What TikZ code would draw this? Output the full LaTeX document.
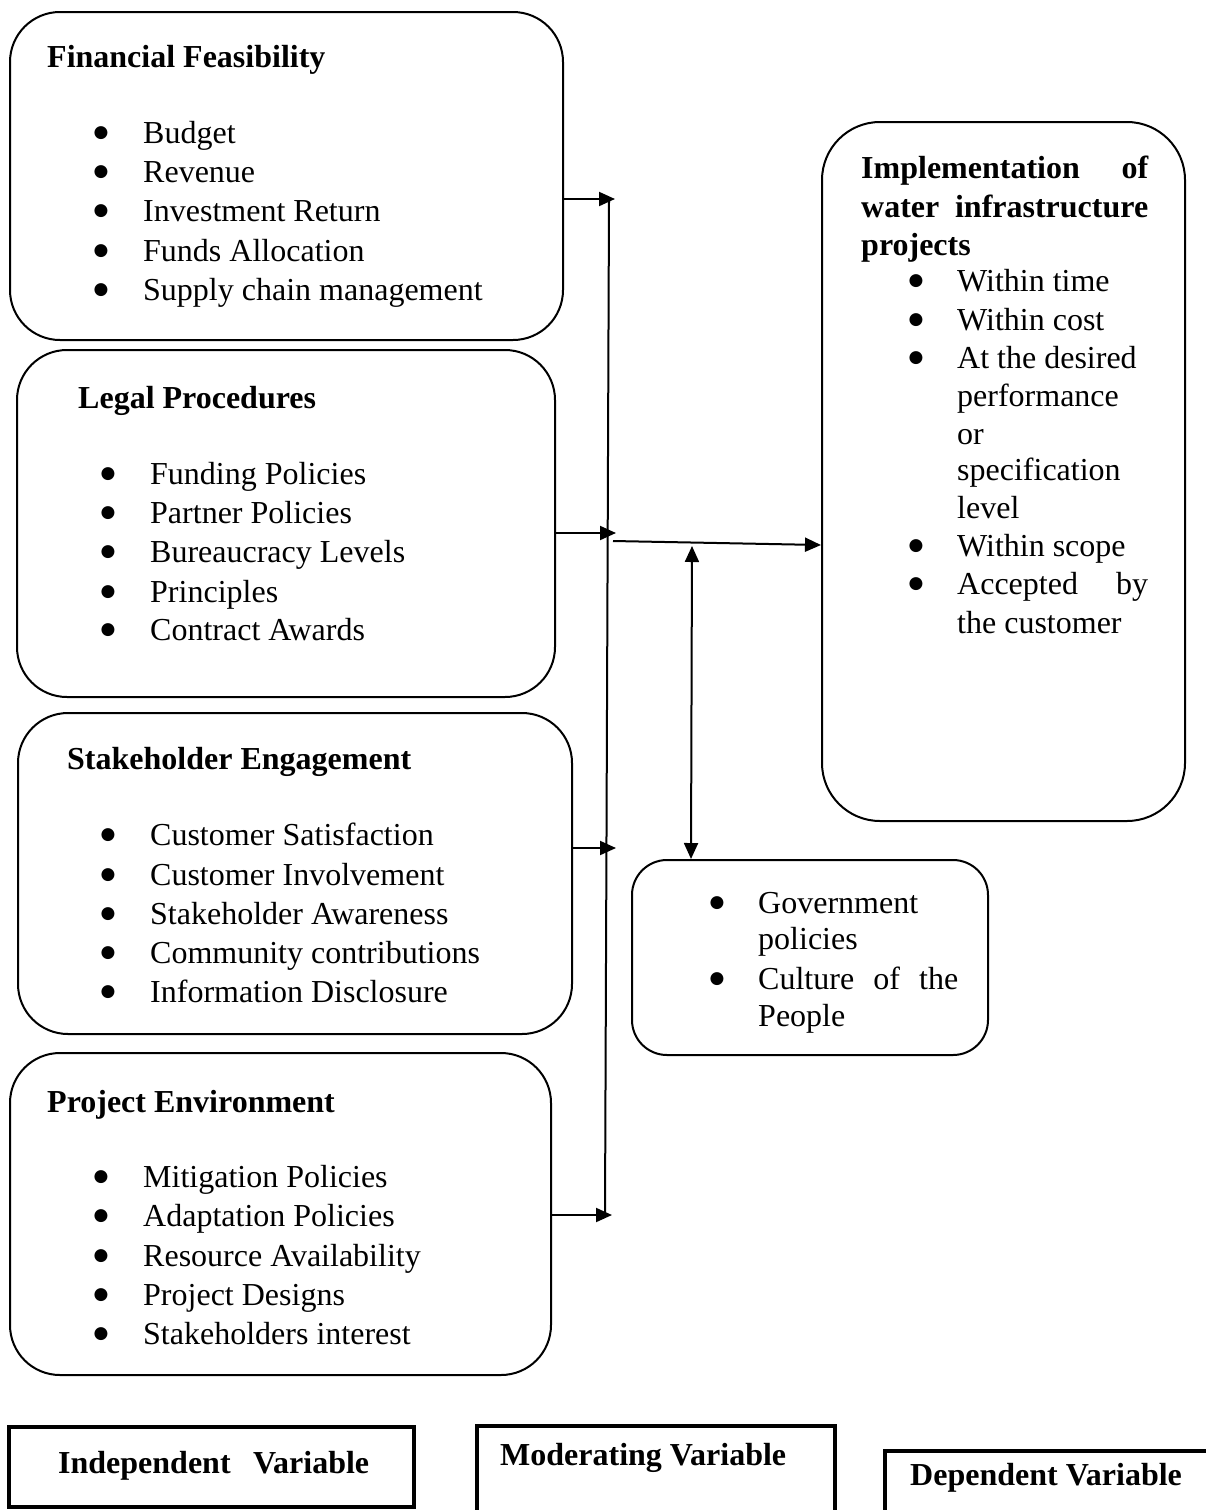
\documentclass[tikz,border=0pt]{standalone}
\usepackage{fontspec}
\setmainfont{Liberation Serif}
\newfontfamily\bulfont{DejaVu Sans}
\usetikzlibrary{arrows.meta}
\tikzset{
  rbox/.style={draw, line width=2pt, rounded corners=50pt, inner sep=0pt},
  vbox/.style={draw, line width=4pt, inner sep=0pt},
  txt/.style={anchor=base west, inner sep=0pt, font=\fontsize{32}{39}\selectfont},
  hd/.style={txt, font=\fontsize{32}{39}\selectfont\bfseries},
  bul/.style={anchor=center, inner sep=0pt, yshift=2pt, font=\bulfont\fontsize{17}{18}\selectfont},
  arr/.style={line width=2pt, -{Triangle[length=16pt,width=14pt]}},
  dbl/.style={line width=2pt, {Triangle[length=16pt,width=14pt]}-{Triangle[length=16pt,width=14pt]}},
  ln/.style={line width=2pt}
}
\begin{document}
\begin{tikzpicture}[x=1pt,y=-1pt]
\useasboundingbox (0,0) rectangle (1206,1510);
% boxes
\node[rbox, minimum width=553pt, minimum height=328pt] (fin) at (286.5,176) {};
\node[rbox, minimum width=538pt, minimum height=347pt] (leg) at (286,523.5) {};
\node[rbox, minimum width=554pt, minimum height=321pt] (stk) at (295,873.5) {};
\node[rbox, minimum width=541pt, minimum height=322pt] (prj) at (280.5,1214) {};
\node[rbox, rounded corners=58pt, minimum width=363pt, minimum height=699pt] (impl) at (1003.5,471.5) {};
\node[rbox, rounded corners=35pt, minimum width=356pt, minimum height=195pt] (mod) at (810,957.5) {};

% Financial
\node[hd] (finh) at (47,67) {Financial Feasibility};
\node[bul] (fb1) at (101,135) {●}; \node[txt] (ft1) at (143,143) {Budget};
\node[bul] (fb2) at (101,174) {●}; \node[txt] (ft2) at (143,182) {Revenue};
\node[bul] (fb3) at (101,213) {●}; \node[txt] (ft3) at (143,221) {Investment Return};
\node[bul] (fb4) at (101,253) {●}; \node[txt] (ft4) at (143,261) {Funds Allocation};
\node[bul] (fb5) at (101,292) {●}; \node[txt] (ft5) at (143,300) {Supply chain management};

% Legal
\node[hd] (legh) at (78,408) {Legal Procedures};
\node[bul] (lb1) at (108,476) {●}; \node[txt] (lt1) at (150,484) {Funding Policies};
\node[bul] (lb2) at (108,515) {●}; \node[txt] (lt2) at (150,523) {Partner Policies};
\node[bul] (lb3) at (108,554) {●}; \node[txt] (lt3) at (150,562) {Bureaucracy Levels};
\node[bul] (lb4) at (108,594) {●}; \node[txt] (lt4) at (150,602) {Principles};
\node[bul] (lb5) at (108,632) {●}; \node[txt] (lt5) at (150,640) {Contract Awards};

% Stakeholder
\node[hd] (stkh) at (67,769) {Stakeholder Engagement};
\node[bul] (sb1) at (108,837) {●}; \node[txt] (st1) at (150,845) {Customer Satisfaction};
\node[bul] (sb2) at (108,877) {●}; \node[txt] (st2) at (150,885) {Customer Involvement};
\node[bul] (sb3) at (108,916) {●}; \node[txt] (st3) at (150,924) {Stakeholder Awareness};
\node[bul] (sb4) at (108,955) {●}; \node[txt] (st4) at (150,963) {Community contributions};
\node[bul] (sb5) at (108,994) {●}; \node[txt] (st5) at (150,1002) {Information Disclosure};

% Project environment
\node[hd] (prjh) at (47,1112) {Project Environment};
\node[bul] (pb1) at (101,1179) {●}; \node[txt] (pt1) at (143,1187) {Mitigation Policies};
\node[bul] (pb2) at (101,1218) {●}; \node[txt] (pt2) at (143,1226) {Adaptation Policies};
\node[bul] (pb3) at (101,1258) {●}; \node[txt] (pt3) at (143,1266) {Resource Availability};
\node[bul] (pb4) at (101,1297) {●}; \node[txt] (pt4) at (143,1305) {Project Designs};
\node[bul] (pb5) at (101,1336) {●}; \node[txt] (pt5) at (143,1344) {Stakeholders interest};

% Implementation
\node[hd] (ih1) at (861,178) {\makebox[287pt][s]{Implementation of}};
\node[hd] (ih2) at (861,217) {\makebox[287pt][s]{water infrastructure}};
\node[hd] (ih3) at (861,255) {projects};
\node[bul] (ib1) at (916,283) {●}; \node[txt] (it1) at (957,291) {Within time};
\node[bul] (ib2) at (916,322) {●}; \node[txt] (it2) at (957,330) {Within cost};
\node[bul] (ib3) at (916,360) {●}; \node[txt] (it3) at (957,368) {At the desired};
\node[txt] (it4) at (957,406) {performance};
\node[txt] (it5) at (957,444) {or};
\node[txt] (it6) at (957,480) {specification};
\node[txt] (it7) at (957,518) {level};
\node[bul] (ib4) at (916,548) {●}; \node[txt] (it8) at (957,556) {Within scope};
\node[bul] (ib5) at (916,586) {●}; \node[txt] (it9) at (957,594) {\makebox[191pt][s]{Accepted by}};
\node[txt] (it10) at (957,633) {the customer};

% Moderating box text
\node[bul] (mb1) at (717,905) {●}; \node[txt] (mt1) at (758,913) {Government};
\node[txt] (mt2) at (758,949) {policies};
\node[bul] (mb2) at (717,981) {●}; \node[txt] (mt3) at (758,989) {\makebox[200pt][s]{Culture of the}};
\node[txt] (mt4) at (758,1026) {People};

% connectors
\coordinate (busTop) at (609,201);
\coordinate (busBot) at (605,1215);
\coordinate (t1) at (615,199);
\coordinate (t2) at (616,533);
\coordinate (t3) at (616,848);
\coordinate (t4) at (612,1215);
\coordinate (m1) at (613,541);
\coordinate (m2) at (822,545);
\coordinate (d1) at (692,546);
\coordinate (d2) at (691,860);
\draw[ln] (busTop) -- (busBot);
\draw[arr] (fin.east |- t1) -- (t1);
\draw[arr] (leg.east |- t2) -- (t2);
\draw[arr] (stk.east |- t3) -- (t3);
\draw[arr] (prj.east |- t4) -- (t4);
\draw[arr] (m1) -- (impl.west |- m2);
\draw[dbl] (d1) -- (mod.north -| d2);

% bottom labels
\node[vbox, minimum width=405pt, minimum height=80pt] (indep) at (211.5,1467) {};
\node[vbox, minimum width=358pt, minimum height=94pt] (modv) at (656,1473) {};
\node[vbox, minimum width=327pt, minimum height=70pt] (dep) at (1048.5,1486) {};
\node[hd] (indept) at (58,1473) {\makebox[311pt][s]{Independent Variable}};
\node[hd] (modt) at (500,1465) {Moderating Variable};
\node[hd] (dept) at (910,1485) {Dependent Variable};
\end{tikzpicture}
\end{document}
